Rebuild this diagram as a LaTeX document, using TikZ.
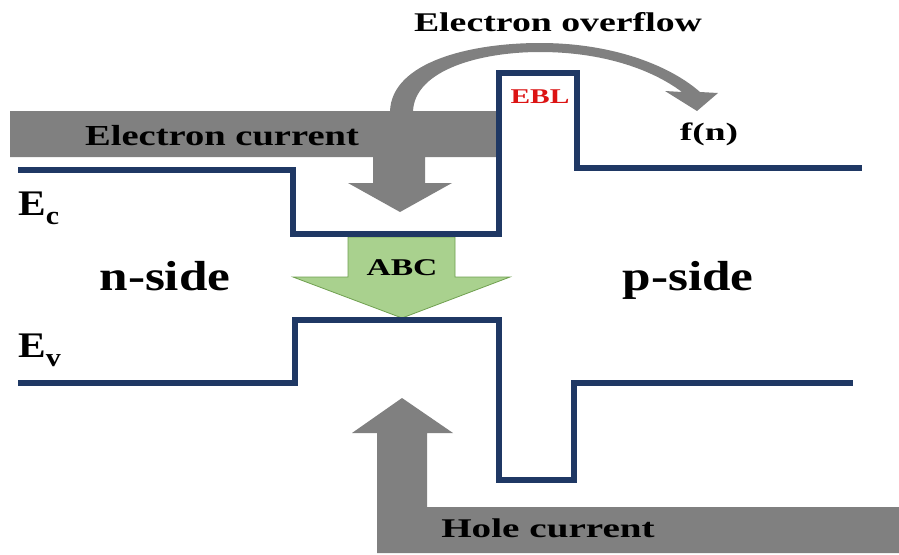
\documentclass[tikz,border=0pt]{standalone}
\usepackage{fontspec}
\setmainfont{Liberation Serif}
\definecolor{bandblue}{RGB}{31,56,100}
\definecolor{flowgray}{RGB}{128,128,128}
\definecolor{abcgreen}{RGB}{169,209,142}
\definecolor{abcedge}{RGB}{112,160,80}
\definecolor{eblred}{RGB}{220,20,20}
\tikzset{
  band/.style={draw=bandblue, line width=6.5pt, line join=miter},
  flow/.style={fill=flowgray, draw=none},
  lbl/.style={inner sep=0pt, anchor=base, font=\bfseries},
}
\newcommand{\fsz}[1]{\fontsize{#1}{#1}\selectfont}
\begin{document}
\begin{tikzpicture}[x=1pt,y=-1pt]
\useasboundingbox[fill=white] (0,0) rectangle (899,554);

% electron overflow curved arrow
\fill[flowgray] (390,115) -- (390,111) .. controls (392,62) and (470,43) .. (540,43)
  .. controls (610,43) and (668,64) .. (700,92) -- (718,93) -- (697,111) -- (665,91) -- (682,92)
  .. controls (650,68) and (600,52) .. (540,52)
  .. controls (480,52) and (415,70) .. (413,111) -- (413,115) -- cycle;

% electron current bar with down arrow
\path[flow] (10,111) -- (497,111) -- (497,157) -- (425,157) -- (425,183) -- (452,183)
  -- (400,212) -- (348,183) -- (373,183) -- (373,157) -- (10,157) -- cycle;

% hole current bar with up arrow
\path[flow] (377,553) -- (377,433) -- (352,433) -- (402,398) -- (453,433) -- (427,433)
  -- (427,507) -- (899,507) -- (899,553) -- cycle;

% ABC arrow
\draw[fill=abcgreen, draw=abcedge, line width=0.8pt] (348,237) -- (455,237) -- (455,277)
  -- (510,277) -- (402,318) -- (293,277) -- (348,277) -- cycle;

% conduction band
\draw[band] (18,170) -- (293,170) -- (293,234) -- (499,234) -- (499,73) -- (577,73)
  -- (577,168) -- (862,168);
% valence band
\draw[band] (18,383) -- (295,383) -- (295,320) -- (499,320) -- (499,480) -- (574,480)
  -- (574,383) -- (853,383);

% labels
\node[lbl, xscale=1.4] (ovf) at (558,31) {\fsz{27}Electron overflow};
\node[lbl, xscale=1.4, text=eblred] (ebl) at (540,103) {\fsz{21}EBL};
\node[lbl, xscale=1.5] (fn) at (709,140) {\fsz{25}f(n)};
\node[lbl, xscale=1.33] (ecur) at (222,145) {\fsz{29}Electron current};
\node[lbl, xscale=1.45] (hcur) at (548,537) {\fsz{27}Hole current};
\node[lbl, xscale=1.4] (abc) at (402,275) {\fsz{24}ABC};
\node[lbl, xscale=1.22] (nside) at (165,290) {\fsz{42}n-side};
\node[lbl, xscale=1.22] (pside) at (688,290) {\fsz{42}p-side};
\node[lbl, xscale=1.15, anchor=base west] (ec) at (18,215) {\fsz{36}E\raisebox{-9pt}{\fsz{26}c}};
\node[lbl, xscale=1.15, anchor=base west] (ev) at (18,357) {\fsz{36}E\raisebox{-9pt}{\fsz{26}v}};
\end{tikzpicture}
\end{document}
